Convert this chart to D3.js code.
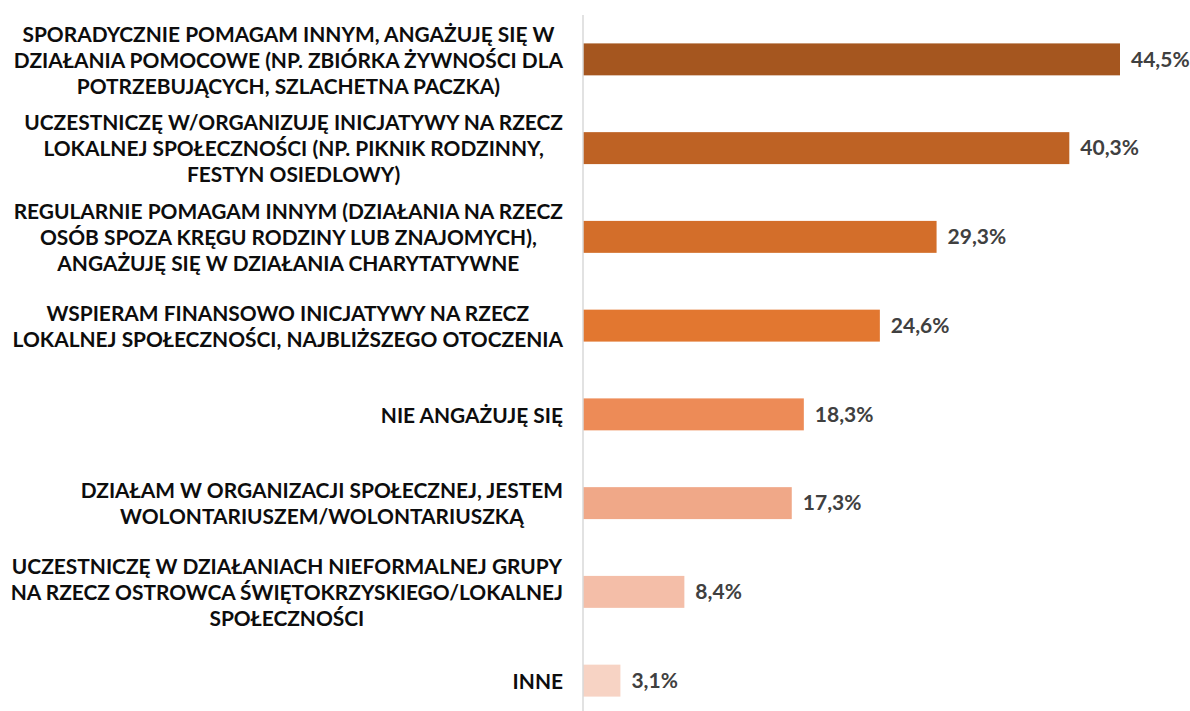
<!DOCTYPE html>
<html>
<head>
<meta charset="utf-8">
<script src="https://cdn.jsdelivr.net/npm/d3@7"></script>
<style>
  body { margin: 0; background: #fff; }
  text { font-family: Lato, "Open Sans", sans-serif; font-weight: bold; }
</style>
</head>
<body>
<div id="chart"></div>
<script>
var width = 1190, height = 711;

var categories = [
  ["SPORADYCZNIE POMAGAM INNYM, ANGAŻUJĘ SIĘ W", "DZIAŁANIA POMOCOWE (NP. ZBIÓRKA ŻYWNOŚCI DLA", "POTRZEBUJĄCYCH, SZLACHETNA PACZKA)"],
  ["UCZESTNICZĘ W/ORGANIZUJĘ INICJATYWY NA RZECZ", "LOKALNEJ SPOŁECZNOŚCI (NP. PIKNIK RODZINNY,", "FESTYN OSIEDLOWY)"],
  ["REGULARNIE POMAGAM INNYM (DZIAŁANIA NA RZECZ", "OSÓB SPOZA KRĘGU RODZINY LUB ZNAJOMYCH),", "ANGAŻUJĘ SIĘ W DZIAŁANIA CHARYTATYWNE"],
  ["WSPIERAM FINANSOWO INICJATYWY NA RZECZ", "LOKALNEJ SPOŁECZNOŚCI, NAJBLIŻSZEGO OTOCZENIA"],
  ["NIE ANGAŻUJĘ SIĘ"],
  ["DZIAŁAM W ORGANIZACJI SPOŁECZNEJ, JESTEM", "WOLONTARIUSZEM/WOLONTARIUSZKĄ"],
  ["UCZESTNICZĘ W DZIAŁANIACH NIEFORMALNEJ GRUPY", "NA RZECZ OSTROWCA ŚWIĘTOKRZYSKIEGO/LOKALNEJ", "SPOŁECZNOŚCI"],
  ["INNE"]
];
var values = [44.5, 40.3, 29.3, 24.6, 18.3, 17.3, 8.4, 3.1];
var colors = ["#a5561f", "#be6224", "#d36e2a", "#e27730", "#ed8b57", "#f0a888", "#f4bea8", "#f7d3c4"];

var svg = d3.select("#chart")
  .append("svg")
    .attr("width", width)
    .attr("height", height);

var x0 = 583;
var x = d3.scaleLinear()
    .domain([0, 44.5])
    .range([x0, 1120]);

var y = d3.scaleBand()
    .domain(d3.range(values.length))
    .range([15, 725])
    .paddingInner(0.64)
    .paddingOuter(0.32);

// bars
svg.selectAll("rect.bar")
    .data(values)
  .enter().append("rect")
    .attr("class", "bar")
    .attr("x", x0)
    .attr("y", function(d, i) { return y(i); })
    .attr("width", function(d) { return x(d) - x0; })
    .attr("height", y.bandwidth())
    .attr("fill", function(d, i) { return colors[i]; });

// vertical axis line
svg.append("line")
    .attr("x1", x0).attr("x2", x0)
    .attr("y1", 15).attr("y2", height)
    .attr("stroke", "#d9d9d9")
    .attr("stroke-width", 1.5);

// value labels
svg.selectAll("text.value")
    .data(values)
  .enter().append("text")
    .attr("class", "value")
    .attr("x", function(d) { return x(d) + 11; })
    .attr("y", function(d, i) { return y(i) + y.bandwidth() / 2; })
    .attr("dy", "0.35em")
    .attr("fill", "#404040")
    .style("font-size", "21px")
    .text(function(d) { return d.toFixed(1).replace(".", ",") + "%"; });

// category labels: centered lines, block right-aligned to the axis
var right = 563, lineH = 26;
var labels = svg.selectAll("g.label")
    .data(categories)
  .enter().append("g")
    .attr("class", "label");

labels.each(function(lines, i) {
  var g = d3.select(this);
  var cy = y(i) + y.bandwidth() / 2 + 1;
  var t = g.selectAll("text")
      .data(lines)
    .enter().append("text")
      .attr("y", function(d, j) { return cy + (j - (lines.length - 1) / 2) * lineH; })
      .attr("dy", "0.35em")
      .attr("text-anchor", "middle")
      .attr("fill", "#0d0d0d")
      .style("font-size", "20.9px")
      .text(function(d) { return d; });
  var maxW = d3.max(t.nodes(), function(n) { return n.getComputedTextLength(); });
  t.attr("x", right - maxW / 2);
});
</script>
</body>
</html>
